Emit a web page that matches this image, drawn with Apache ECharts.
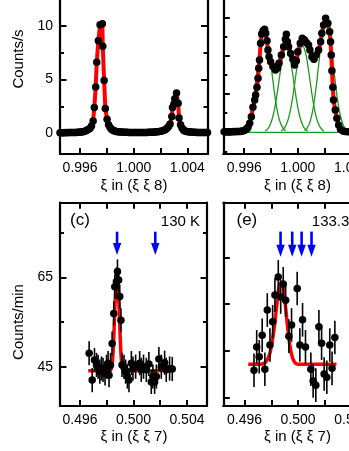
<!DOCTYPE html>
<html>
<head>
<meta charset="utf-8">
<script src="https://cdn.jsdelivr.net/npm/echarts@6/dist/echarts.min.js"></script>
<style>html,body{margin:0;padding:0;background:#fff}#c{width:349px;height:451px}</style>
</head>
<body>
<div id="c"></div>
<script>
// ---------- DATA ----------
// (a) top-left: xi in (xi xi 8), Counts/s
const tlX = [0.9945,0.9946,0.9947,0.9948,0.9949,0.9950,0.9951,0.9952,0.9953,0.9954,0.9955,0.9956,0.9957,0.9958,0.9959,0.9960,0.9961,0.9962,0.9963,0.9964,0.9965,0.9966,
  0.99673,0.99685,0.99697,0.99706,0.99716,0.99724,0.99736,0.99749,0.99766,0.99769,0.99779,0.99788,0.99801,0.99812,0.99822,0.99832,0.99842,0.99850,
  0.9986,0.9987,0.9988,0.9989,0.9990,0.9991,0.9992,0.9993,0.9994,0.9995,0.9996,0.9997,0.9998,0.9999,1.0000,1.0001,1.0002,1.0003,1.0004,1.0005,
  1.0006,1.0007,1.0008,1.0009,1.0010,1.0011,1.0012,1.0013,1.0014,1.0015,1.0016,1.0017,1.0018,1.0019,1.0020,1.0021,1.0022,1.0023,1.0024,1.0025,1.0026,
  1.00271,1.00284,1.00289,1.00299,1.00306,1.00319,1.00331,1.00338,1.00349,1.0036,1.0037,
  1.0038,1.0039,1.0040,1.0041,1.0042,1.0043,1.0044,1.0045,1.0046,1.0047,1.0048,1.0049,1.0050,1.0051,1.0052,1.0053,1.0054,1.0055];
const tlY = [0.05,0.04,0.05,0.05,0.06,0.05,0.06,0.06,0.07,0.06,0.07,0.08,0.08,0.09,0.10,0.11,0.12,0.14,0.17,0.21,0.27,0.36,
  0.45,0.68,1.15,2.4,4.3,6.6,8.6,10.1,10.2,8.1,4.9,2.3,1.3,0.8,0.55,0.4,0.3,0.24,
  0.2,0.17,0.15,0.13,0.12,0.11,0.1,0.1,0.09,0.09,0.08,0.08,0.08,0.07,0.07,0.07,0.07,0.06,0.07,0.07,
  0.07,0.07,0.08,0.08,0.08,0.09,0.09,0.1,0.1,0.11,0.12,0.13,0.14,0.16,0.18,0.21,0.25,0.3,0.38,0.48,0.62,
  0.87,1.55,2.4,2.7,3.2,3.74,2.8,1.43,0.78,0.5,0.3,
  0.22,0.18,0.15,0.13,0.12,0.11,0.1,0.09,0.09,0.08,0.08,0.08,0.07,0.07,0.07,0.07,0.06,0.06];

// (b) top-right: multi-peak profile with four fitted components
const trX = [0.9945,0.9946,0.9947,0.9948,0.9949,0.9950,0.9951,0.9952,0.9953,0.9954,0.9955,0.9956,0.9957,0.9958,0.9959,0.9960,0.9961,0.9962,
  0.99628,0.99641,0.99653,0.99665,0.99678,0.99685,0.99695,0.99703,0.99708,0.99714,0.99722,0.99730,0.99741,0.99752,0.99760,0.99770,0.99777,0.99785,
  0.99797,0.99814,0.99832,0.99847,0.99859,0.99877,0.99894,0.99907,0.99914,0.99922,0.99931,0.99946,0.99963,0.99976,0.99989,1.00000,1.00018,1.00033,
  1.00050,1.00065,1.00080,1.00090,1.00105,1.00120,1.00137,1.00155,1.00170,1.00179,1.00192,1.00207,1.00224,1.00237,1.00244,1.00249,1.00254,1.00261,
  1.00266,1.00279,1.00291,1.00304,1.00318,1.00336,1.00352,1.0037,1.0039];
const trY = [0.03,0.02,0.03,0.03,0.02,0.03,0.03,0.04,0.03,0.04,0.04,0.05,0.05,0.06,0.08,0.10,0.14,0.19,
  0.26,0.47,0.81,1.31,1.69,1.95,2.35,2.82,3.34,3.78,4.65,5.13,5.3,5.38,5.17,4.78,4.3,3.95,
  3.69,3.43,3.25,3.34,3.6,4.04,4.47,4.86,5.12,4.73,4.47,4.12,3.81,3.51,3.74,4.21,4.65,4.91,
  4.82,4.68,4.56,4.3,3.95,3.81,4.04,4.3,4.73,5.17,5.6,5.95,5.69,5.25,4.73,4.04,3.22,2.35,
  1.69,1.16,0.73,0.38,0.16,0.07,0.04,0.03,0.03];
const compAX = [0.9959,0.9961,0.9963,0.9965,0.9967,0.9969,0.9971,0.9973,0.9975,0.9977,0.9979,0.9981,0.9983,0.9985,0.9987,0.9989,0.9991];
const compAY = [0.08,0.21,0.49,1.01,1.84,2.93,4.07,4.96,5.3,4.96,4.07,2.93,1.84,1.01,0.49,0.21,0.08];
const compBX = [0.99754,0.99774,0.99794,0.99814,0.99834,0.99854,0.99874,0.99894,0.99914,0.99934,0.99954,0.99974,0.99994,1.00014,1.00034,1.00054,1.00074];
const compBY = [0.07,0.17,0.41,0.84,1.53,2.43,3.38,4.12,4.4,4.12,3.38,2.43,1.53,0.84,0.41,0.17,0.07];
const compCX = [0.99875,0.99895,0.99915,0.99935,0.99955,0.99975,0.99995,1.00015,1.00035,1.00055,1.00075,1.00095,1.00115,1.00135,1.00155,1.00175,1.00195];
const compCY = [0.07,0.18,0.42,0.86,1.56,2.48,3.46,4.21,4.5,4.21,3.46,2.48,1.56,0.86,0.42,0.18,0.07];
const compDX = [1.0005,1.0007,1.0009,1.0011,1.0013,1.0015,1.0017,1.0019,1.0021,1.0023,1.0025,1.0027,1.0029,1.0031,1.0033,1.0035,1.0037];
const compDY = [0.09,0.23,0.54,1.11,2.01,3.2,4.45,5.43,5.8,5.43,4.45,3.2,2.01,1.11,0.54,0.23,0.09];
const compBaseX = [0.99615,1.00315];
const compBaseY = [0,0];

// (c) bottom-left: xi in (xi xi 7), Counts/min, 130 K
const blX = [0.49668,0.49691,0.49708,0.49723,0.49735,0.49748,0.49760,0.49772,0.49787,0.49798,0.49810,0.49817,0.49828,0.49840,0.49852,0.49860,0.49872,0.49880,0.49889,0.49897,0.49906,0.49914,
  0.49929,0.49941,0.49954,0.49966,0.49984,0.49996,0.50016,0.50046,0.50058,0.50075,0.50096,0.50115,0.50133,0.50145,0.50158,0.50171,0.50190,0.50208,0.50233,0.50245,0.50270,0.50290];
const blY = [48.0,42.0,46.5,45.4,45.0,43.9,44.6,44.3,43.5,45.0,45.8,43.1,45.4,50.2,56.9,62.9,64.0,66.3,64.4,60.7,55.4,45.4,
  45.0,43.9,42.8,42.0,45.8,44.6,45.0,45.8,44.3,45.0,44.3,45.6,41.6,42.8,41.6,42.8,46.7,45.0,45.9,44.3,44.6,44.5];
const blErr = 2.7;
const blFitX = [0.49661,0.49820,0.49835,0.49848,0.49858,0.49868,0.49877,0.49886,0.49896,0.49906,0.49916,0.49930,0.50290];
const blFitY = [44.1,44.1,44.6,48.5,56.0,63.5,67.0,63.0,55.0,48.0,44.6,44.1,44.1];
const blArrowX = [0.49877,0.50163];
const blArrowTop = [75.2,75.2];
const blArrowTip = [70.0,70.0];

// (e) bottom-right: 133.3 K
const brX = [0.49671,0.49691,0.49710,0.49732,0.49752,0.49770,0.49790,0.49810,0.49827,0.49852,0.49870,0.49889,0.49907,0.49931,0.49951,
  0.49993,0.50013,0.50033,0.50055,0.50095,0.50112,0.50132,0.50155,0.50175,0.50194,0.50214,0.50236,0.50253,0.50274];
const brY = [45.8,50.8,48.7,53.3,46.0,58.7,51.2,56.2,61.9,65.8,61.5,64.3,60.8,53.1,55.5,
  63.3,51.2,56.6,50.8,46.0,43.5,42.6,55.1,51.6,45.0,44.3,51.2,46.2,52.8];
const brErr = 3.6;
const brFitX = [0.49628,0.4972,0.4976,0.4979,0.4982,0.4984,0.4986,0.4988,0.4990,0.4992,0.4994,0.4996,0.4998,0.5000,0.50286];
const brFitY = [47.1,47.1,47.6,49.5,54.5,59.5,64.0,64.6,61.0,55.5,50.8,48.3,47.3,47.1,47.1];
const brArrowX = [0.49869,0.49956,0.50026,0.50100];
const brArrowTop = [75.5,75.5,75.5,75.5];
const brArrowTip = [70.1,70.1,70.1,70.1];

// ticks
const topXTicks = [0.996,0.998,1.000,1.002,1.004];
const topXLabels = [0.996,1.000,1.004];
const botXTicks = [0.496,0.498,0.500,0.502,0.504];
const botXLabels = [0.496,0.500,0.504];
const tlYMajor = [0,5,10], tlYMinor = [2.5,7.5], tlYLabels = [0,5,10];
const trYMajor = [0,2,4,6], trYMinor = [-1,1,3,5,7];
const blYMajor = [45,65], blYMinor = [55,75], blYLabels = [45,65];
const brYMajor = [40,50,60,70], brYMinor = [];

// ---------- LAYOUT / STYLE ----------
const FONT = 'Liberation Sans, Arial, sans-serif';
const panels = [
  {left:60,   top:-20,   width:147.5, height:174,   xMin:0.9945,  xMax:1.0055,  yMin:-1.93, yMax:14.26, xT:topXTicks, xL:topXLabels, yMaj:tlYMajor, yMin2:tlYMinor, yL:tlYLabels},
  {left:223.3,top:-20,   width:147.5, height:174,   xMin:0.99444, xMax:1.00544, yMin:-1.13, yMax:7.95,  xT:topXTicks, xL:topXLabels, yMaj:trYMajor, yMin2:trYMinor, yL:[]},
  {left:60,   top:202.7, width:147,   height:203.3, xMin:0.4945,  xMax:0.5055,  yMin:36.21, yMax:81.69, xT:botXTicks, xL:botXLabels, yMaj:blYMajor, yMin2:blYMinor, yL:blYLabels},
  {left:223.3,top:202.7, width:147.5, height:203.3, xMin:0.49442, xMax:0.50542, yMin:38.14, yMax:81.69, xT:botXTicks, xL:botXLabels, yMaj:brYMajor, yMin2:brYMinor, yL:[]}
];
const lineSt = {color:'#000', width:2.2};
const grids = [], xAxes = [], yAxes = [];
panels.forEach(p => grids.push({left:p.left, top:p.top, width:p.width, height:p.height, containLabel:false, outerBoundsMode:'none'}));
panels.forEach(p => grids.push({left:p.left, top:p.top, width:p.width, height:p.height, containLabel:false, outerBoundsMode:'none'}));
const lbl = {color:'#000', fontFamily:FONT, fontSize:14};
panels.forEach((p,i) => {
  xAxes.push({type:'value', gridIndex:i, position:'bottom', min:p.xMin, max:p.xMax,
    axisLine:{show:true, onZero:false, lineStyle:lineSt},
    axisTick:{show:true, inside:true, length:6, customValues:p.xT, lineStyle:{color:'#000', width:2}},
    axisLabel:Object.assign({show:true, margin:7, customValues:p.xL, formatter:v=>v.toFixed(3)}, lbl),
    splitLine:{show:false}});
});
panels.forEach((p,i) => {
  xAxes.push({type:'value', gridIndex:i+4, position:'top', min:p.xMin, max:p.xMax,
    axisLine:{show:true, onZero:false, lineStyle:lineSt},
    axisTick:{show:true, inside:true, length:6, customValues:p.xT, lineStyle:{color:'#000', width:2}},
    axisLabel:{show:false}, splitLine:{show:false}});
});
panels.forEach((p,i) => {
  yAxes.push({type:'value', gridIndex:i, position:'left', min:p.yMin, max:p.yMax,
    axisLine:{show:true, onZero:false, lineStyle:lineSt},
    axisTick:{show:true, inside:true, length:6.5, customValues:p.yMaj, lineStyle:{color:'#000', width:2}},
    axisLabel:Object.assign({show:p.yL.length>0, margin:7, customValues:p.yL.length?p.yL:[0]}, lbl),
    splitLine:{show:false}});
  yAxes.push({type:'value', gridIndex:i, position:'right', min:p.yMin, max:p.yMax,
    axisLine:{show:true, onZero:false, lineStyle:lineSt},
    axisTick:{show:true, inside:true, length:6.5, customValues:p.yMaj, lineStyle:{color:'#000', width:2}},
    axisLabel:{show:false}, splitLine:{show:false}});
});
panels.forEach((p,i) => {
  const has = p.yMin2.length>0;
  yAxes.push({type:'value', gridIndex:i+4, position:'left', min:p.yMin, max:p.yMax,
    axisLine:{show:false}, axisTick:{show:has, inside:true, length:4, customValues:has?p.yMin2:[p.yMin], lineStyle:{color:'#000', width:2}},
    axisLabel:{show:false}, splitLine:{show:false}});
  yAxes.push({type:'value', gridIndex:i+4, position:'right', min:p.yMin, max:p.yMax,
    axisLine:{show:false}, axisTick:{show:has, inside:true, length:4, customValues:has?p.yMin2:[p.yMin], lineStyle:{color:'#000', width:2}},
    axisLabel:{show:false}, splitLine:{show:false}});
});

const pairs = (xs, ys) => xs.map((x,i) => [x, ys[i]]);
const redLine = (pi, xs, ys, w, smooth) => ({type:'line', xAxisIndex:pi, yAxisIndex:pi*2, data:pairs(xs,ys), symbol:'none', smooth:smooth||false,
  lineStyle:{color:'#ff0000', width:w}, z:3, silent:true});
const greenLine = (xs, ys) => ({type:'line', xAxisIndex:1, yAxisIndex:2, data:pairs(xs,ys), symbol:'none', smooth:true,
  lineStyle:{color:'#1f991f', width:1.3}, z:2, silent:true});
const dots = (pi, xs, ys) => ({type:'scatter', xAxisIndex:pi, yAxisIndex:pi*2, data:pairs(xs,ys), symbol:'circle', symbolSize:7.5,
  itemStyle:{color:'#000', opacity:1}, z:5, silent:true});
const errBars = (pi, xs, ys, e) => ({type:'custom', xAxisIndex:pi, yAxisIndex:pi*2, z:4, silent:true,
  data: xs.map((x,i) => [x, ys[i]-e, ys[i]+e]),
  encode:{x:0, y:[1,2]},
  renderItem:(params, api) => {
    const a = api.coord([api.value(0), api.value(1)]);
    const b = api.coord([api.value(0), api.value(2)]);
    return {type:'line', shape:{x1:a[0], y1:a[1], x2:b[0], y2:b[1]}, style:{stroke:'#000', lineWidth:1.6}};
  }});
const arrows = (pi, xs, tops, tips) => ({type:'custom', xAxisIndex:pi, yAxisIndex:pi*2, z:6, silent:true,
  data: xs.map((x,i) => [x, tops[i], tips[i]]),
  encode:{x:0, y:[1,2]},
  renderItem:(params, api) => {
    const t = api.coord([api.value(0), api.value(1)]);
    const p = api.coord([api.value(0), api.value(2)]);
    const hl = 12, hw = 4.2;
    return {type:'group', children:[
      {type:'line', shape:{x1:t[0], y1:t[1], x2:p[0], y2:p[1]-hl+1}, style:{stroke:'#0000ff', lineWidth:2.6}},
      {type:'polygon', shape:{points:[[p[0]-hw, p[1]-hl],[p[0]+hw, p[1]-hl],[p[0], p[1]]]}, style:{fill:'#0000ff'}}
    ]};
  }});

const series = [
  redLine(0, tlX, tlY, 4),
  dots(0, tlX, tlY),
  greenLine(compBaseX, compBaseY),
  greenLine(compAX, compAY),
  greenLine(compBX, compBY),
  greenLine(compCX, compCY),
  greenLine(compDX, compDY),
  redLine(1, trX, trY, 4),
  dots(1, trX, trY),
  redLine(2, blFitX, blFitY, 3.5, 0.25),
  errBars(2, blX, blY, blErr),
  dots(2, blX, blY),
  arrows(2, blArrowX, blArrowTop, blArrowTip),
  redLine(3, brFitX, brFitY, 3.5, 0.3),
  errBars(3, brX, brY, brErr),
  dots(3, brX, brY),
  arrows(3, brArrowX, brArrowTop, brArrowTip)
];

const txt = (text, x, y, size, align, rot) => ({type:'text', x:x, y:y, rotation:rot||0, silent:true,
  style:{text:text, fontSize:size, fontFamily:FONT, fill:'#000', align:align||'center', verticalAlign:'middle'}});
const graphic = [
  txt('Counts/s', 19, 59, 15, 'center', Math.PI/2),
  txt('Counts/min', 19, 322, 15, 'center', Math.PI/2),
  txt('ξ in (ξ ξ 8)', 134, 186, 15),
  txt('ξ in (ξ ξ 8)', 297.5, 186, 15),
  txt('ξ in (ξ ξ 7)', 134, 437, 15),
  txt('ξ in (ξ ξ 7)', 297.5, 437, 15),
  txt('(c)', 70, 220, 17, 'left'),
  txt('130 K', 200, 221.5, 15, 'right'),
  txt('(e)', 236.5, 220, 17, 'left'),
  txt('133.3 K', 363.5, 221.5, 15, 'right')
];

const chart = echarts.init(document.getElementById('c'), null, {renderer:'canvas'});
chart.setOption({animation:false, backgroundColor:'#fff', grid:grids, xAxis:xAxes, yAxis:yAxes, series:series, graphic:graphic});
</script>
</body>
</html>
